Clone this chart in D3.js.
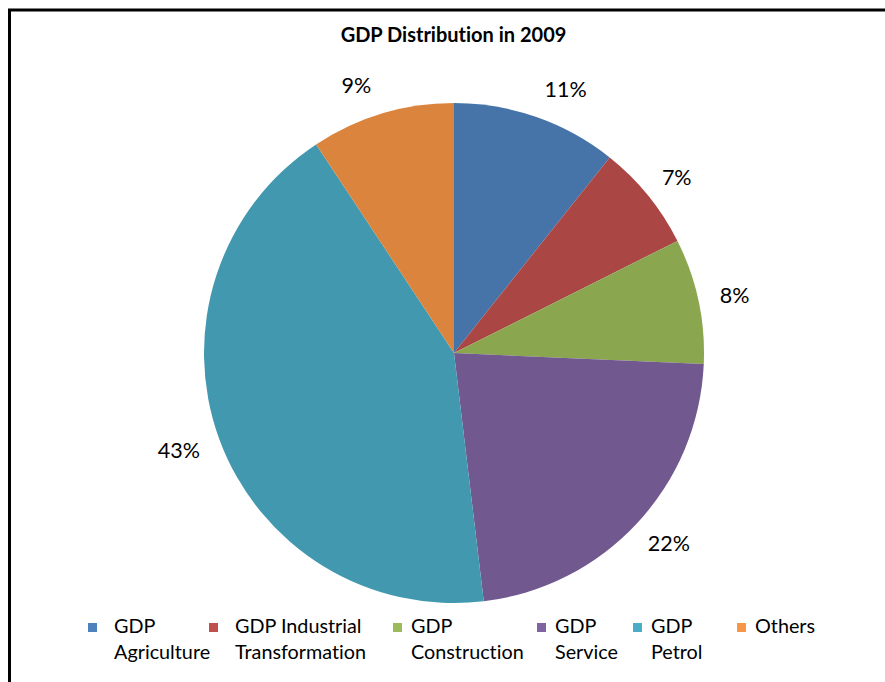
<!DOCTYPE html>
<html>
<head>
<meta charset="utf-8">
<script src="https://cdn.jsdelivr.net/npm/d3@7/dist/d3.min.js"></script>
<style>
  html, body { margin: 0; padding: 0; background: #fff; }
  svg { display: block; }
  text { font-family: Lato, "Noto Sans", sans-serif; fill: #000; font-variant-ligatures: none; }
</style>
</head>
<body>
<svg id="chart" width="885" height="682"></svg>
<script>
// ---- data ----
const title = "GDP Distribution in 2009";
const categories = ["GDP Agriculture", "GDP Industrial Transformation", "GDP Construction", "GDP Service", "GDP Petrol", "Others"];
const values = [10.7, 6.9, 8.1, 22.4, 42.6, 9.3];
const sliceColors = ["#4674A8", "#AA4644", "#8AA64F", "#71588F", "#4198AF", "#DB843D"];
const legendColors = ["#4F81BD", "#C0504D", "#9BBB59", "#8064A2", "#4BACC6", "#F79646"];

// ---- layout ----
const W = 885, H = 682;
const cx = 454, cy = 353, R = 250;
const labelGap = 22;
const legendX = [88, 209, 393, 537, 633, 737];
const legendY1 = 633, legendLine = 26;

const svg = d3.select("#chart");

// frame
svg.append("rect")
  .attr("x", 9.5).attr("y", 10)
  .attr("width", 900).attr("height", 700)
  .attr("fill", "none").attr("stroke", "#000").attr("stroke-width", 3);

// title
svg.append("text")
  .attr("x", 453.5).attr("y", 42)
  .attr("text-anchor", "middle")
  .style("font-weight", "bold").style("font-size", "20px")
  .text(title);

const total = d3.sum(values);
const pie = d3.pie().sort(null).value(d => d).startAngle(0).endAngle(2 * Math.PI);
const arcs = pie(values);
const arc = d3.arc().innerRadius(0).outerRadius(R);

const g = svg.append("g").attr("transform", `translate(${cx},${cy})`);
g.selectAll("path.slice").data(arcs).join("path")
  .attr("class", "slice")
  .attr("d", arc)
  .attr("fill", (d, i) => sliceColors[i])
  .attr("stroke", "none");

// data labels (outside end)
const fmt = v => Math.round(v / total * 100) + "%";
const capH = 16;
arcs.forEach((d, i) => {
  const a = (d.startAngle + d.endAngle) / 2;
  const ux = Math.sin(a), uy = -Math.cos(a);
  const t = g.append("text")
    .attr("text-anchor", "middle")
    .style("font-size", "21.5px")
    .text(fmt(d.value));
  const w = t.node().getComputedTextLength();
  // labels close to the top are nudged sideways, away from the vertical axis
  const spread = Math.abs(uy) > 0.9 ? Math.sign(ux) * 15 : 0;
  const px = (R + labelGap) * ux + ux * w / 2 + spread;
  const py = (R + labelGap) * uy + uy * capH / 2;
  t.attr("x", px).attr("y", py + capH / 2);
});

// legend
const leg = svg.append("g");
categories.forEach((name, i) => {
  const x = legendX[i];
  leg.append("rect")
    .attr("x", x).attr("y", legendY1 - 10)
    .attr("width", 9).attr("height", 9)
    .attr("fill", legendColors[i]);
  const sp = name.lastIndexOf(" ");
  const lines = sp > 0 ? [name.slice(0, sp), name.slice(sp + 1)] : [name];
  const tx = x + (i < 2 ? 26 : 18);
  const t = leg.append("text")
    .attr("x", tx)
    .attr("y", legendY1)
    .style("font-size", "19.8px");
  lines.forEach((ln, j) => {
    t.append("tspan")
      .attr("x", tx)
      .attr("dy", j === 0 ? 0 : legendLine)
      .text(ln);
  });
});
</script>
</body>
</html>
